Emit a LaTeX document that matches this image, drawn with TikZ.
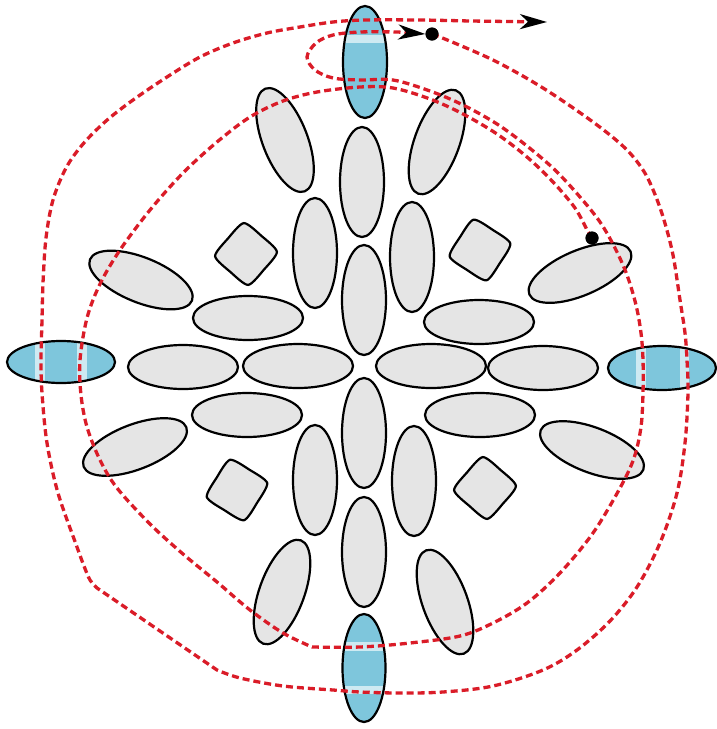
\documentclass[tikz,border=0pt]{standalone}
\usetikzlibrary{arrows.meta}
\definecolor{cellgray}{RGB}{229,229,229}
\definecolor{cellblue}{RGB}{126,198,220}
\definecolor{stripeblue}{RGB}{206,234,242}
\definecolor{routered}{RGB}{218,28,40}
\tikzset{
  cellline/.style={draw=black, line width=2.2pt},
  grayell/.style={cellline, fill=cellgray},
  sqcell/.style={cellline, fill=cellgray},
  route/.style={draw=routered, line width=3.3pt, dash pattern=on 7pt off 4pt},
  dotnode/.style={circle, fill=black, inner sep=0pt, minimum size=13pt},
  bigtip/.style={-{Stealth[length=27pt,width=15pt,inset=8pt,black]}},
}
\newcommand\grayv[2]{\draw[grayell] (#1,#2) ellipse [x radius=22, y radius=55];}
\newcommand\grayh[2]{\draw[grayell] (#1,#2) ellipse [x radius=55, y radius=22];}
\newcommand\graytilt[3]{\draw[grayell, rotate around={#3:(#1,#2)}] (#1,#2) ellipse [x radius=55, y radius=22.5];}
\newcommand\roundsq[3]{\draw[sqcell, shift={(#1,#2)}] plot[smooth cycle, tension=0.42] coordinates
  {(#3:31) (#3+45:23.8) (#3+90:31) (#3+135:23.8) (#3+180:31) (#3+225:23.8) (#3+270:31) (#3+315:23.8)};}
\begin{document}
\begin{tikzpicture}[x=1pt,y=-1pt]
\useasboundingbox (0,0) rectangle (717,729);

% central cross of ellipses
\grayv{362}{182}
\grayv{364}{300}
\grayv{364}{433}
\grayv{364}{552}
\grayh{183}{367}
\grayh{298}{366}
\grayh{431}{366}
\grayh{543}{368}

% second ring
\grayv{315}{253}
\grayv{412}{257}
\grayv{315}{480}
\grayv{414}{481}
\grayh{248}{318}
\grayh{479}{322}
\grayh{247}{415}
\grayh{480}{415}

% tilted outer ellipses
\graytilt{285}{140}{-69}
\graytilt{437}{142}{70}
\graytilt{141}{280}{-22}
\graytilt{580}{273}{23}
\graytilt{135}{447}{21}
\graytilt{592}{450}{-21}
\graytilt{282}{592}{70}
\graytilt{445}{602}{-70}

% rounded squares
\roundsq{246}{254}{-94}
\roundsq{480}{250}{-102}
\roundsq{237}{490}{-103}
\roundsq{485}{488}{-94}

% blue ellipses with light stripes
\begin{scope}
  \fill[cellblue] (365,62) ellipse [x radius=22, y radius=56];
  \clip (365,62) ellipse [x radius=22, y radius=56];
  \fill[stripeblue] (330,35) rectangle (400,43);
\end{scope}
\draw[cellline] (365,62) ellipse [x radius=22, y radius=56];

\begin{scope}
  \fill[cellblue] (364,668) ellipse [x radius=21.5, y radius=54];
  \clip (364,668) ellipse [x radius=21.5, y radius=54];
  \fill[stripeblue] (330,642) rectangle (400,651);
  \fill[stripeblue] (330,686) rectangle (400,694);
\end{scope}
\draw[cellline] (364,668) ellipse [x radius=21.5, y radius=54];

\begin{scope}
  \fill[cellblue] (61,362) ellipse [x radius=54, y radius=21];
  \clip (61,362) ellipse [x radius=54, y radius=21];
  \fill[stripeblue] (35,330) rectangle (45,400);
  \fill[stripeblue] (77,330) rectangle (87,400);
\end{scope}
\draw[cellline] (61,362) ellipse [x radius=54, y radius=21];

\begin{scope}
  \fill[cellblue] (662,368) ellipse [x radius=54, y radius=22];
  \clip (662,368) ellipse [x radius=54, y radius=22];
  \fill[stripeblue] (636,330) rectangle (646,400);
  \fill[stripeblue] (680,330) rectangle (689,400);
\end{scope}
\draw[cellline] (662,368) ellipse [x radius=54, y radius=22];

% markers
\node[dotnode] (d1) at (592,238) {};
\node[dotnode] (d2) at (432,34) {};
\coordinate (tipend) at (547,22);

% inner route: from first dot, around, small loop, into second dot
\draw[route, bigtip] (d1.center)
  -- plot[smooth, tension=0.55] coordinates {
    (587,230) (575,208) (553,182) (527,157) (497,134) (463,114) (430,99) (393,88) (360,87)
    (317,92) (283,101) (250,117) (217,142) (183,173) (150,210) (120,250) (100,284)
    (87,318) (80,360) (81,395) (87,427) (100,460) (117,488) (150,524) (183,554)
    (217,582) (250,610) (283,633) (312,647)}
  -- plot[smooth, tension=0.55] coordinates {
    (312,647) (360,647) (410,643) (460,636) (493,623) (527,603) (560,573) (593,533)
    (620,488) (634,458) (641,427) (643,393) (643,360) (641,333) (636,305) (627,275)
    (615,248) (600,222) (580,197) (555,170) (527,146) (497,124) (463,105) (430,91)
    (393,80) (360,80) (333,78) (315,70) (307,57) (316,43) (333,35) (360,32) (398,32)}
  -- (d2.west);

% outer route: from second dot around the outside, to the exit arrow
\draw[route, bigtip] (d2.center)
  -- plot[smooth, tension=0.55] coordinates {
    (440,37) (493,60) (543,88) (593,122) (625,148) (643,170) (654,192) (664,220)
    (673,255) (680,300) (685,333) (687,360) (688,393) (685,443) (677,493) (660,543)
    (637,587) (610,621) (577,650) (543,670) (493,686) (443,692) (400,693) (360,692)
    (333,690) (283,686) (240,678) (217,670)}
  -- (97,588)
  -- plot[smooth, tension=0.55] coordinates {
    (97,588) (90,580) (84,566) (77,547) (58,493) (47,443) (42,393) (41,360)
    (42,320) (43,283) (46,238) (53,200) (66,168) (83,144) (106,121) (133,100) (167,77)
    (200,57) (233,43) (267,33) (300,27) (333,22) (365,20) (420,20) (470,21)}
  -- (tipend);

% redraw dots on top
\fill[black] (d1) circle [radius=6.5];
\fill[black] (d2) circle [radius=6.5];
\end{tikzpicture}
\end{document}
